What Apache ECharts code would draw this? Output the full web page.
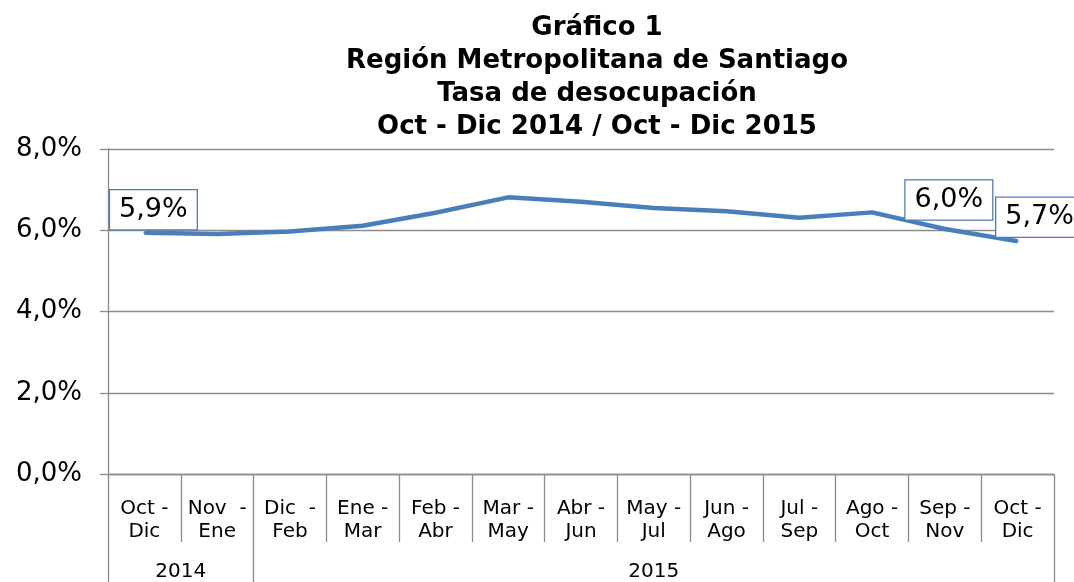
<!DOCTYPE html>
<html>
<head>
<meta charset="utf-8">
<script src="https://cdn.jsdelivr.net/npm/echarts@6/dist/echarts.min.js"></script>
<style>html,body{margin:0;padding:0;background:#fff}#c{width:1074px;height:582px}</style>
</head>
<body>
<div id="c"></div>
<script>
const titleLines = ['Gráfico 1', 'Región Metropolitana de Santiago', 'Tasa de desocupación', 'Oct - Dic 2014 / Oct - Dic 2015'];
const categories = ['Oct -\nDic', 'Nov  -\nEne', 'Dic  -\nFeb', 'Ene -\nMar', 'Feb -\nAbr', 'Mar -\nMay', 'Abr -\nJun', 'May -\nJul', 'Jun -\nAgo', 'Jul -\nSep', 'Ago -\nOct', 'Sep -\nNov', 'Oct -\nDic'];
const values = [5.94, 5.91, 5.97, 6.11, 6.43, 6.81, 6.70, 6.55, 6.47, 6.31, 6.44, 6.03, 5.73];
const labelText = ['5,9%', null, null, null, null, null, null, null, null, null, null, '6,0%', '5,7%'];
const labelOffsets = [[9, -23], null, null, null, null, null, null, null, null, null, null, [4, -29], [22, -24]];
const groups = [{ name: '2014', span: 2 }, { name: '2015', span: 11 }];

const FONT = '"DejaVu Sans", Verdana, sans-serif';
const BLUE = '#4A7EBB';
const GREY = '#8C8C8C';

const groupBounds = [0];
const groupCenters = [];
const groupNameAt = {};
groups.forEach(g => {
  const start = groupBounds[groupBounds.length - 1];
  const end = start + g.span;
  groupBounds.push(end);
  const c = (start + end) / 2;
  groupCenters.push(c);
  groupNameAt[c] = g.name;
});

const seriesData = values.map((v, i) => {
  if (!labelText[i]) return v;
  return {
    value: v,
    label: {
      show: true,
      position: 'inside',
      formatter: labelText[i],
      fontFamily: FONT,
      fontSize: 27,
      color: '#000',
      backgroundColor: '#fff',
      borderColor: BLUE,
      borderWidth: 1.3,
      padding: [7, 9, 5, 9]
    }
  };
});

const chart = echarts.init(document.getElementById('c'), null, { renderer: 'canvas' });
chart.setOption({
  animation: false,
  backgroundColor: '#fff',
  title: {
    text: titleLines.join('\n'),
    left: 592,
    textAlign: 'center',
    top: 7,
    textStyle: { fontFamily: FONT, fontSize: 26, fontWeight: 'bold', color: '#000', lineHeight: 33 }
  },
  grid: { left: 108, right: 20, top: 149, bottom: 104, containLabel: false },
  xAxis: [{
    type: 'category',
    data: categories,
    boundaryGap: true,
    axisLine: { show: true, lineStyle: { color: GREY, width: 1.3 } },
    axisTick: { show: true, interval: 0, length: 68, lineStyle: { color: GREY, width: 1.3 } },
    axisLabel: { interval: 0, margin: 23, fontFamily: FONT, fontSize: 20, color: '#000', lineHeight: 23 }
  }, {
    type: 'value',
    position: 'bottom',
    offset: 68,
    min: 0,
    max: categories.length,
    axisLine: { show: false },
    splitLine: { show: false },
    axisTick: { show: true, customValues: groupBounds, length: 40, lineStyle: { color: GREY, width: 1.3 } },
    axisLabel: {
      customValues: groupCenters,
      margin: 20,
      fontFamily: FONT, fontSize: 20, color: '#000',
      formatter: v => groupNameAt[v] || ''
    }
  }],
  yAxis: {
    type: 'value',
    min: 0, max: 8, interval: 2,
    axisLine: { show: true, lineStyle: { color: GREY, width: 1.3 } },
    axisTick: { show: true, length: 8, lineStyle: { color: GREY, width: 1.3 } },
    splitLine: { show: true, lineStyle: { color: GREY, width: 1.3 } },
    axisLabel: {
      margin: 26,
      fontFamily: FONT, fontSize: 26, color: '#000',
      formatter: v => v.toFixed(1).replace('.', ',') + '%'
    }
  },
  series: [{
    type: 'line',
    data: seriesData,
    xAxisIndex: 0,
    showSymbol: true,
    showAllSymbol: true,
    symbol: 'circle',
    symbolSize: 2,
    itemStyle: { color: BLUE },
    lineStyle: { color: BLUE, width: 4.5 },
    labelLayout: function (params) {
      const off = labelOffsets[params.dataIndex];
      if (!off) return {};
      return { dx: off[0], dy: off[1], hideOverlap: false };
    },
    z: 5
  }]
});
</script>
</body>
</html>
